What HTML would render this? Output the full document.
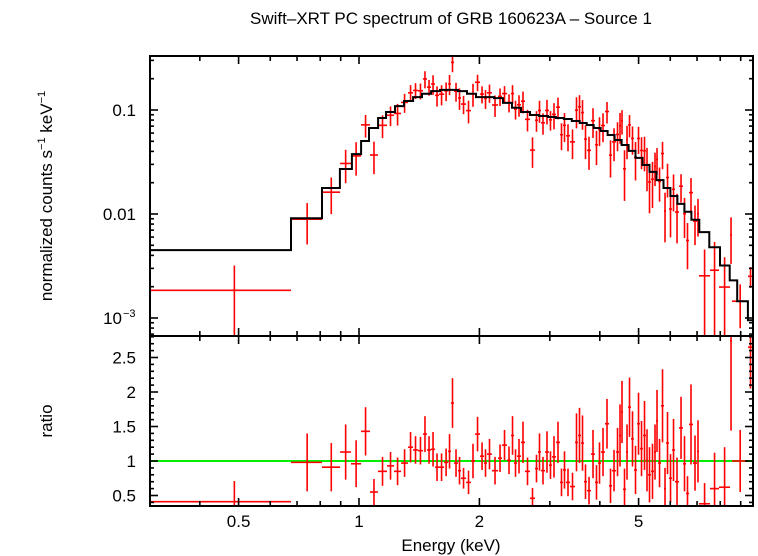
<!DOCTYPE html>
<html><head><meta charset="utf-8">
<style>
html,body{margin:0;padding:0;background:#fff;}
svg{display:block;font-family:"Liberation Sans",Arial,sans-serif;}
</style></head>
<body>
<svg id="chart" width="758" height="556" viewBox="0 0 758 556" xmlns="http://www.w3.org/2000/svg">
<text x="451" y="24" font-size="17" text-anchor="middle">Swift–XRT PC spectrum of GRB 160623A – Source 1</text>
<text transform="translate(52,196) rotate(-90)" font-size="17" text-anchor="middle">normalized counts s<tspan font-size="11" dy="-7">−1</tspan><tspan dy="7"> keV</tspan><tspan font-size="11" dy="-7">−1</tspan></text>
<text transform="translate(52,421) rotate(-90)" font-size="17" text-anchor="middle">ratio</text>
<text x="451" y="551" font-size="17" text-anchor="middle">Energy (keV)</text>
<g id="marks"></g>
<g id="axes"></g>
</svg>
<script>
const modelEdges=[0.3,0.676,0.808,0.896,0.96,1.012,1.059,1.116,1.168,1.23,1.296,1.365,1.437,1.514,1.594,1.679,1.768,1.862,1.961,2.065,2.175,2.291,2.413,2.541,2.676,2.818,2.968,3.107,3.252,3.404,3.563,3.709,3.861,4.019,4.184,4.355,4.534,4.72,4.913,5.114,5.324,5.542,5.77,6.006,6.252,6.508,6.775,7.09,7.51,7.99,8.45,8.82,9.38,9.67];
const modelVals=[0.0045,0.0091,0.0178,0.0271,0.0377,0.0503,0.0671,0.0838,0.0957,0.109,0.122,0.133,0.143,0.152,0.156,0.156,0.152,0.143,0.133,0.133,0.130,0.117,0.105,0.0957,0.0895,0.0876,0.0856,0.0838,0.0819,0.0784,0.075,0.0718,0.0671,0.0628,0.0575,0.0515,0.0461,0.0404,0.0346,0.0296,0.0254,0.0212,0.0178,0.0149,0.0125,0.0105,0.0088,0.0067,0.0048,0.0032,0.0023,0.00145,0.00095];
const dataEdges=[0.300,0.676,0.808,0.897,0.955,1.012,1.065,1.115,1.175,1.223,1.274,1.326,1.365,1.404,1.445,1.479,1.514,1.549,1.585,1.632,1.670,1.698,1.728,1.768,1.799,1.852,1.905,1.950,2.007,2.054,2.089,2.150,2.226,2.278,2.344,2.399,2.441,2.483,2.541,2.600,2.676,2.754,2.802,2.851,2.917,2.985,3.037,3.108,3.180,3.236,3.292,3.369,3.467,3.528,3.589,3.652,3.715,3.802,3.890,3.958,4.027,4.121,4.217,4.291,4.391,4.467,4.519,4.571,4.651,4.705,4.786,4.870,4.955,5.041,5.129,5.218,5.279,5.370,5.464,5.527,5.592,5.689,5.788,5.855,5.957,6.061,6.166,6.310,6.457,6.569,6.683,6.839,6.998,7.079,7.542,7.943,8.464,8.562,9.386,9.661];
const ratioVals=[0.41,0.98,0.91,1.13,0.96,1.43,0.55,0.85,0.93,0.85,0.97,1.2,1.16,1.15,1.39,1.16,1.17,0.91,0.91,0.98,1.14,1.84,0.97,0.86,0.75,0.69,1.0,1.39,1.07,0.97,1.1,0.86,1.04,1.23,1.01,1.37,0.97,1.07,1.27,0.85,0.46,0.89,1.13,0.86,1.13,0.94,1.06,1.27,0.69,0.87,0.69,0.63,1.27,1.37,1.26,0.7,0.57,1.1,0.69,0.97,1.13,1.54,0.64,0.86,1.13,1.37,1.71,0.59,1.13,1.78,1.32,0.87,1.54,1.18,1.37,1.01,0.8,0.85,1.13,1.58,0.97,1.8,0.6,1.26,0.75,1.16,0.7,1.48,0.96,0.53,1.53,0.97,1.14,0.38,0.6,0.62,2.74,1.0,2.65];
const ratioErrs=[0.3,0.42,0.35,0.4,0.34,0.35,0.19,0.21,0.2,0.2,0.2,0.22,0.2,0.2,0.26,0.2,0.25,0.2,0.2,0.2,0.25,0.36,0.2,0.2,0.15,0.17,0.25,0.25,0.2,0.2,0.22,0.2,0.2,0.22,0.2,0.28,0.2,0.25,0.3,0.2,0.15,0.2,0.27,0.2,0.3,0.2,0.3,0.3,0.2,0.27,0.2,0.2,0.42,0.4,0.4,0.25,0.2,0.35,0.25,0.3,0.35,0.36,0.25,0.3,0.35,0.45,0.45,0.3,0.4,0.43,0.4,0.35,0.45,0.4,0.5,0.45,0.4,0.4,0.4,0.45,0.35,0.53,0.3,0.45,0.35,0.45,0.35,0.45,0.4,0.25,0.58,0.4,0.45,0.3,0.52,0.58,1.3,0.45,0.6];
const xTickMajor=[0.5,1,2,5];
const xTickMinor=[0.3,0.4,0.6,0.7,0.8,0.9,3,4,6,7,8,9];
const yTopMajor=[0.1,0.01,0.001];
const yTopLabels=["0.1","0.01","10"];
const yBotMajor=[0.5,1,1.5,2,2.5];
const yBotLabels=["0.5","1","1.5","2","2.5"];

const L=150,R=753,T=56,M=336,B=506;
const x=e=>359+400*Math.log10(e);
const yT=v=>110-104*(Math.log10(v)+1);
const yB=r=>461-69*(r-1);
const NS="http://www.w3.org/2000/svg";
const marks=document.getElementById('marks'),axes=document.getElementById('axes');
function el(tag,attrs,parent){const e=document.createElementNS(NS,tag);for(const k in attrs)e.setAttribute(k,attrs[k]);parent.appendChild(e);return e;}
const cl=(v,a,b)=>Math.max(a,Math.min(b,v));
function modelAt(e){for(let i=0;i<modelVals.length;i++){if(e>=modelEdges[i]&&e<modelEdges[i+1])return modelVals[i];}return modelVals[modelVals.length-1];}

const g=el('line',{x1:L,x2:R,y1:yB(1),y2:yB(1),stroke:'#00ee00','stroke-width':2},marks);



for(let i=0;i<ratioVals.length;i++){
  const e0=dataEdges[i],e1=dataEdges[i+1],ec=(e0+e1)/2;
  const m=modelAt(ec),r=ratioVals[i],er=ratioErrs[i];
  const gt=el('g',{stroke:'#ff0000','stroke-width':1.6},marks);
  
  
  const yv=yT(m*r);
  if(yv>=T&&yv<=M) el('line',{x1:x(e0),x2:Math.min(x(e1),R),y1:yv,y2:yv},gt);
  const lo=m*(r-er),hi=m*(r+er);
  const ya=lo>0?cl(yT(lo),T,M):M, yb=cl(yT(hi),T,M);
  el('line',{x1:x(ec),x2:x(ec),y1:ya,y2:yb},gt);
  const gb=el('g',{stroke:'#ff0000','stroke-width':1.6},marks);
  
  
  const yr=yB(r);
  if(yr>=M&&yr<=B) el('line',{x1:x(e0),x2:Math.min(x(e1),R),y1:yr,y2:yr},gb);
  el('line',{x1:x(ec),x2:x(ec),y1:cl(yB(r-er),M,B),y2:cl(yB(r+er),M,B)},gb);
}
let d='';
for(let i=0;i<modelVals.length;i++){
  const yy=yT(modelVals[i]);
  d+=(i===0?'M':'L')+x(modelEdges[i]).toFixed(1)+','+yy.toFixed(1)+'L'+Math.min(x(modelEdges[i+1]),R).toFixed(1)+','+yy.toFixed(1);
}
const mp=el('path',{d:d,fill:'none',stroke:'#000','stroke-width':2},marks);



const f1=el('rect',{x:L,y:T,width:R-L,height:M-T,fill:'none',stroke:'#000','stroke-width':2},axes);


const f2=el('rect',{x:L,y:M,width:R-L,height:B-M,fill:'none',stroke:'#000','stroke-width':2},axes);


const tk={stroke:'#000','stroke-width':1.6};
function xt(e,len){const xx=x(e);
  el('line',Object.assign({x1:xx,x2:xx,y1:T,y2:T+len},tk),axes);
  el('line',Object.assign({x1:xx,x2:xx,y1:M-len,y2:M+len},tk),axes);
  el('line',Object.assign({x1:xx,x2:xx,y1:B,y2:B-len},tk),axes);}
xTickMajor.forEach(e=>xt(e,8));
xTickMinor.forEach(e=>xt(e,5));
xTickMajor.forEach((e,i)=>{const t=el('text',{x:x(e),y:527,'font-size':17,'text-anchor':'middle'},axes);t.textContent=String(e);
  
  });
function yt(yy,len){el('line',Object.assign({x1:L,x2:L+len,y1:yy,y2:yy},tk),axes);el('line',Object.assign({x1:R,x2:R-len,y1:yy,y2:yy},tk),axes);}
for(let dec=0.0001;dec<1;dec*=10){for(let k=1;k<10;k++){const v=dec*k;const yy=yT(v);if(yy>=T&&yy<=M)yt(yy,k===1?8:4);}}
yTopMajor.forEach((v,i)=>{const t=el('text',{x:i===2?122:136,y:yT(v)+6,'font-size':17,'text-anchor':'end'},axes);t.textContent=yTopLabels[i];
  
  
  if(i===2){const s=el('text',{x:123,y:yT(v)-1,'font-size':11},axes);s.textContent='−3';
  
  }});
for(let r=0.4;r<=2.81;r+=0.1){const yy=yB(r);const maj=Math.abs(r*2-Math.round(r*2))<0.01;yt(yy,maj?8:4);}
yBotMajor.forEach((v,i)=>{const t=el('text',{x:136,y:yB(v)+6,'font-size':17,'text-anchor':'end'},axes);t.textContent=yBotLabels[i];
  
  });
</script>
</body></html>
